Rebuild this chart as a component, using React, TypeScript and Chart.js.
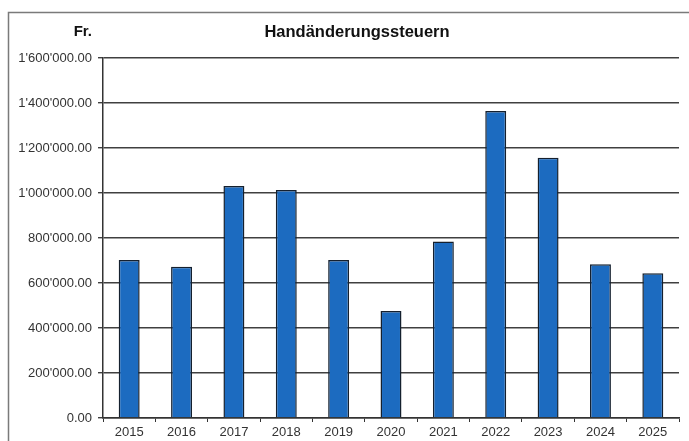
import React, { useEffect, useRef } from "react";
import { Chart, registerables } from "chart.js";

Chart.register(...registerables);

const categories = ["2015", "2016", "2017", "2018", "2019", "2020", "2021", "2022", "2023", "2024", "2025"];
const values = [702000, 672000, 1031000, 1013000, 702000, 476000, 784000, 1364000, 1157000, 683000, 643000];
const chartTitle = "Handänderungssteuern";
const unitLabel = "Fr.";

function formatCHF(v: number): string {
  const fixed = Number(v).toFixed(2);
  const [intPart, dec] = fixed.split(".");
  const withSep = intPart.replace(/\B(?=(\d{3})+(?!\d))/g, "'");
  return withSep + "." + dec;
}

const framePlugin = {
  id: "frameAndTitle",
  beforeDraw(chart: any) {
    const ctx = chart.ctx;
    ctx.save();
    ctx.fillStyle = "#ffffff";
    ctx.fillRect(0, 0, chart.width, chart.height);
    ctx.strokeStyle = "#7a7a7a";
    ctx.lineWidth = 1.5;
    ctx.beginPath();
    ctx.moveTo(8.5, chart.height);
    ctx.lineTo(8.5, 12.5);
    ctx.lineTo(chart.width, 12.5);
    ctx.stroke();
    ctx.restore();
  },
  afterDraw(chart: any) {
    const ctx = chart.ctx;
    ctx.save();
    ctx.fillStyle = "#111111";
    ctx.textBaseline = "middle";
    ctx.font = "bold 16.5px 'Liberation Sans', Arial, sans-serif";
    ctx.textAlign = "center";
    ctx.fillText(chartTitle, 357, 32);
    ctx.font = "bold 15px 'Liberation Sans', Arial, sans-serif";
    ctx.textAlign = "right";
    ctx.fillText(unitLabel, 92, 32);
    ctx.restore();
  },
};

export default function App() {
  const ref = useRef<HTMLCanvasElement | null>(null);
  useEffect(() => {
    document.body.style.margin = "0";
    if (!ref.current) return;
    const chart = new Chart(ref.current, {
      type: "bar",
      data: {
        labels: categories,
        datasets: [
          {
            data: values,
            backgroundColor: "#1c6bc0",
            borderColor: "#15202e",
            borderWidth: 1.5,
            barPercentage: 0.4,
            categoryPercentage: 1,
          },
        ],
      },
      options: {
        responsive: false,
        animation: false,
        layout: { padding: { left: 0, right: 10, top: 58, bottom: 0 } },
        plugins: {
          legend: { display: false },
          tooltip: { enabled: false },
          title: { display: false },
        },
        scales: {
          x: {
            offset: true,
            grid: {
              offset: true,
              drawOnChartArea: false,
              drawTicks: true,
              tickLength: 4,
              color: "#333333",
            },
            border: { color: "#333333", width: 1.5 },
            ticks: {
              color: "#333333",
              font: { family: "'Liberation Sans', Arial, sans-serif", size: 13 },
              padding: 3,
              maxRotation: 0,
            },
            afterFit(scale: any) {
              scale.height = 23;
            },
          },
          y: {
            min: 0,
            max: 1600000,
            ticks: {
              stepSize: 200000,
              color: "#333333",
              font: { family: "'Liberation Sans', Arial, sans-serif", size: 13 },
              padding: 6,
              callback: (v: any) => formatCHF(Number(v)),
            },
            grid: {
              color: "#404040",
              lineWidth: 1.4,
              tickLength: 5,
            },
            border: { color: "#333333", width: 1.5 },
            afterFit(scale: any) {
              scale.width = 103;
            },
          },
        },
      },
      plugins: [framePlugin],
    });
    return () => chart.destroy();
  }, []);
  return (
    <div style={{ position: "fixed", left: 0, top: 0, width: 689, height: 441 }}>
      <canvas ref={ref} width={689} height={441} style={{ width: 689, height: 441, display: "block" }} />
    </div>
  );
}
